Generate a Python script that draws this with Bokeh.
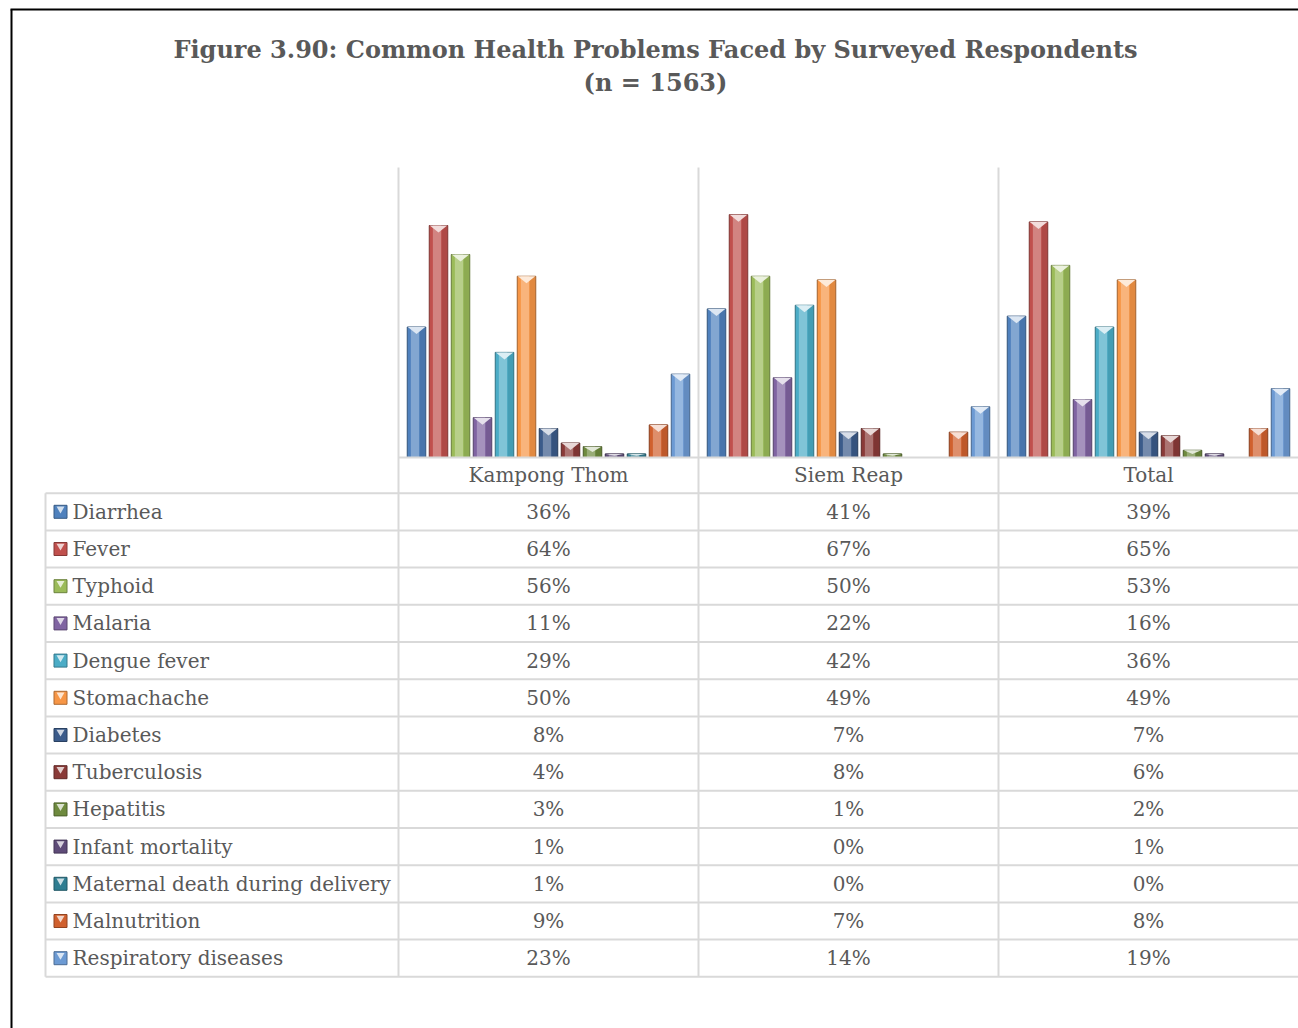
from bokeh.plotting import figure
from bokeh.models import Range1d, ColumnDataSource
from bokeh.core.properties import value
from bokeh.embed import file_html
from bokeh.resources import INLINE

# ---------------- data ----------------
title_lines = ["Figure 3.90: Common Health Problems Faced by Surveyed Respondents", "(n = 1563)"]
categories = ["Kampong Thom", "Siem Reap", "Total"]
series = ["Diarrhea", "Fever", "Typhoid", "Malaria", "Dengue fever", "Stomachache",
          "Diabetes", "Tuberculosis", "Hepatitis", "Infant mortality",
          "Maternal death during delivery", "Malnutrition", "Respiratory diseases"]
kampong_thom = [36, 64, 56, 11, 29, 50, 8, 4, 3, 1, 1, 9, 23]
siem_reap = [41, 67, 50, 22, 42, 49, 7, 8, 1, 0, 0, 7, 14]
total = [39, 65, 53, 16, 36, 49, 7, 6, 2, 1, 0, 8, 19]
values_by_cat = [kampong_thom, siem_reap, total]
colors = ["#4F81BD", "#C0504D", "#9BBB59", "#8064A2", "#4BACC6", "#F79646",
          "#3B5B8A", "#8A3A38", "#6E8A3E", "#5E4B78", "#2F7D91", "#D0602E", "#6C9AD3"]

# ---------------- layout constants ----------------
W, H = 1298, 1028
FONT = "DejaVu Serif"
TXT = "#595959"
GRID = "#D9D9D9"
CAT_W = 300.0
PLOT_X0 = 398.0          # left edge of first category
BASE_Y = 457.0           # baseline (px from top)
PX_PER_PCT = 290.0 / 80.0
BAR_PITCH = 22.0
BAR_W = 18.5
BAR_OFF = 18.0
TABLE_TOP = 492.7
ROW_H = 37.2
TABLE_LEFT = 45.0
PLOT_TOP = 167.0


def mix(c, t, f):
    c = c.lstrip("#"); t = t.lstrip("#")
    a = [int(c[i:i + 2], 16) for i in (0, 2, 4)]
    b = [int(t[i:i + 2], 16) for i in (0, 2, 4)]
    r = [round(a[k] * (1 - f) + b[k] * f) for k in range(3)]
    return "#%02x%02x%02x" % tuple(r)


p = figure(width=W, height=H, output_backend="svg", toolbar_location=None,
           x_range=Range1d(0, W), y_range=Range1d(H, 0),
           x_axis_location=None, y_axis_location=None, min_border=0,
           border_fill_color="white", background_fill_color="white")
p.outline_line_color = None
p.grid.visible = False
p.extra_y_ranges = {"pct": Range1d(-(H - BASE_Y) / PX_PER_PCT, BASE_Y / PX_PER_PCT)}

# ---------------- outer border (top + left) ----------------
p.segment(x0=[10, 11], y0=[9, 9], x1=[W, 11], y1=[9, H], line_color="black", line_width=2)

# ---------------- title ----------------
p.text(x=[655, 655], y=[49, 82], text=title_lines, text_font=value(FONT),
       text_font_style="bold", text_font_size="24px", text_color=TXT,
       text_align="center", text_baseline="middle")

# ---------------- bars ----------------
bx, btop, bfill, bdark, blight, bpale = [], [], [], [], [], []
for i, vals in enumerate(values_by_cat):
    for j, v in enumerate(vals):
        bx.append(PLOT_X0 + i * CAT_W + BAR_OFF + BAR_PITCH * j)
        btop.append(v)
        bfill.append(colors[j])
        bdark.append(mix(colors[j], "#000000", 0.35))
        blight.append(mix(colors[j], "#ffffff", 0.45))
        bpale.append(mix(colors[j], "#ffffff", 0.8))
src = ColumnDataSource(dict(x=bx, top=btop, fill=bfill, dark=bdark, light=blight))

# grid/separators first
vx = [PLOT_X0 + i * CAT_W for i in range(len(categories))]
p.segment(x0=vx, y0=[PLOT_TOP] * 3, x1=vx, y1=[TABLE_TOP + ROW_H * len(series)] * 3,
          line_color=GRID, line_width=2)

p.vbar(x="x", top="top", bottom=0, width=BAR_W, source=src, y_range_name="pct",
       fill_color="fill", line_color="dark", line_width=1)
# right-side shade
p.vbar(x=[x + BAR_W * 0.32 for x in bx], top=btop, bottom=0, width=BAR_W * 0.3,
       y_range_name="pct", fill_color=bdark, fill_alpha=0.25, line_color=None)
# highlight stripe
p.vbar(x=[x - BAR_W * 0.08 for x in bx], top=btop, bottom=0, width=BAR_W * 0.45,
       y_range_name="pct", fill_color=blight, fill_alpha=0.65, line_color=None)

# top chevrons
txs, tys, tcol = [], [], []
for x, v, c in zip(bx, btop, bpale):
    if v <= 0:
        continue
    d = min(7.0 / PX_PER_PCT, v * 0.5)
    txs.append([x - BAR_W / 2 + 0.5, x + BAR_W / 2 - 0.5, x])
    tys.append([v, v, v - d])
    tcol.append(c)
p.patches(xs=txs, ys=tys, fill_color=tcol, line_color=None, y_range_name="pct")

# baseline
p.segment(x0=[PLOT_X0], y0=[BASE_Y], x1=[W], y1=[BASE_Y], line_color=GRID, line_width=2)

# ---------------- data table ----------------
ry = [TABLE_TOP + ROW_H * k for k in range(len(series) + 1)]
p.segment(x0=[TABLE_LEFT] * len(ry), y0=ry, x1=[W] * len(ry), y1=ry,
          line_color=GRID, line_width=2)
p.segment(x0=[TABLE_LEFT], y0=[TABLE_TOP], x1=[TABLE_LEFT], y1=[ry[-1]],
          line_color=GRID, line_width=2)

cx = [PLOT_X0 + CAT_W * (i + 0.5) for i in range(len(categories))]
p.text(x=cx, y=[(BASE_Y + TABLE_TOP) / 2] * 3, text=categories, text_font=value(FONT),
       text_font_size="20px", text_color=TXT, text_align="center", text_baseline="middle")

row_c = [TABLE_TOP + ROW_H * (k + 0.5) for k in range(len(series))]
p.text(x=[72] * len(series), y=row_c, text=series, text_font=value(FONT),
       text_font_size="20px", text_color=TXT, text_align="left", text_baseline="middle")

# legend keys
p.rect(x=[60] * len(series), y=row_c, width=13, height=13, width_units="screen",
       height_units="screen", fill_color=colors,
       line_color=[mix(c, "#000000", 0.3) for c in colors], line_width=1)
p.scatter(x=[60] * len(series), y=[y - 3 for y in row_c], marker="inverted_triangle",
          size=8, fill_color=[mix(c, "#ffffff", 0.75) for c in colors], line_color=None)

vx_t, vy_t, vt = [], [], []
for i, vals in enumerate(values_by_cat):
    for k, v in enumerate(vals):
        vx_t.append(cx[i]); vy_t.append(row_c[k]); vt.append(f"{v}%")
p.text(x=vx_t, y=vy_t, text=vt, text_font=value(FONT), text_font_size="20px",
       text_color=TXT, text_align="center", text_baseline="middle")

open("out.html", "w").write(file_html(p, INLINE))
